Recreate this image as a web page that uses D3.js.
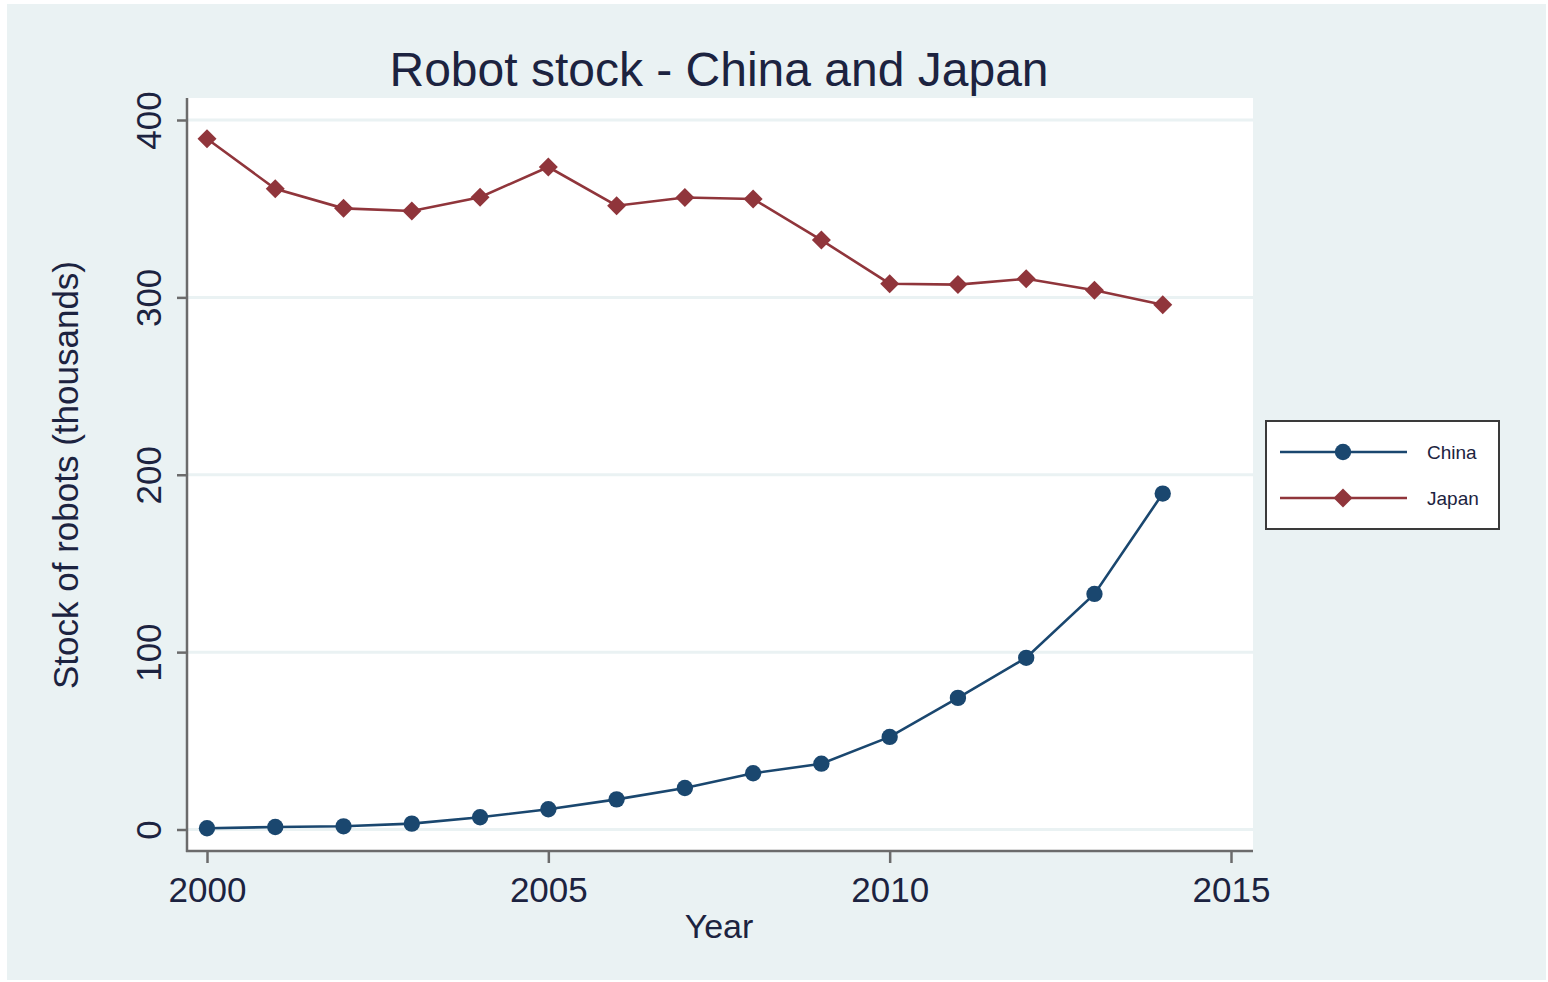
<!DOCTYPE html>
<html>
<head>
<meta charset="utf-8">
<script src="https://cdn.jsdelivr.net/npm/d3@7"></script>
<style>
  html, body { margin: 0; padding: 0; background: #ffffff; }
  svg { display: block; }
  text { font-family: "Liberation Sans", Arial, Helvetica, sans-serif; }
</style>
</head>
<body>
<svg id="chart" width="1548" height="982"></svg>
<script>
// Industrial robot operational stock, thousands of units
const years = [2000, 2001, 2002, 2003, 2004, 2005, 2006, 2007, 2008, 2009, 2010, 2011, 2012, 2013, 2014];
const china = [0.7, 1.4, 1.8, 3.3, 6.9, 11.4, 17.0, 23.4, 31.7, 37.1, 52.2, 74.2, 96.8, 132.8, 189.4];
const japan = [389.4, 361.2, 350.2, 348.7, 356.5, 373.5, 351.7, 356.3, 355.5, 332.3, 307.7, 307.2, 310.5, 304.0, 295.8];
const xTicks = [2000, 2005, 2010, 2015];
const yTicks = [0, 100, 200, 300, 400];
const seriesNames = ["China", "Japan"];

const W = 1548, H = 982;
const plot = { left: 187, right: 1253, top: 98, bottom: 851 };
const colors = { China: "#1a476f", Japan: "#90353b" };
const bg = "#eaf2f3";
const textColor = "#1c2340";

const svg = d3.select("#chart");

// outer background panel
svg.append("rect").attr("x", 7).attr("y", 4).attr("width", W - 9).attr("height", H - 6).attr("fill", bg);
// plot region
svg.append("rect")
  .attr("x", plot.left).attr("y", plot.top)
  .attr("width", plot.right - plot.left).attr("height", plot.bottom - plot.top)
  .attr("fill", "#ffffff");

const x = d3.scaleLinear().domain([2000, 2015]).range([207, 1231]);
const y = d3.scaleLinear().domain([0, 400]).range([829.5, 120]);

// horizontal grid lines
svg.append("g").selectAll("line").data(yTicks).join("line")
  .attr("x1", plot.left).attr("x2", plot.right)
  .attr("y1", d => y(d)).attr("y2", d => y(d))
  .attr("stroke", bg).attr("stroke-width", 3);

// y axis
const yAxis = svg.append("g")
  .attr("transform", `translate(${plot.left},0)`)
  .call(d3.axisLeft(y).tickValues(yTicks).tickSize(10).tickPadding(16).tickSizeOuter(0));
yAxis.select(".domain").remove();
yAxis.selectAll(".tick line").attr("stroke", "#6b6b6b").attr("stroke-width", 2.5);
yAxis.selectAll(".tick text")
  .attr("font-size", 35).attr("fill", textColor)
  .attr("transform", "rotate(-90)")
  .attr("x", 0).attr("y", -26)
  .attr("dy", 0)
  .attr("text-anchor", "middle");

// x axis
const xAxis = svg.append("g")
  .attr("transform", `translate(0,${plot.bottom})`)
  .call(d3.axisBottom(x).tickValues(xTicks).tickFormat(d3.format("d")).tickSize(12).tickPadding(14).tickSizeOuter(0));
xAxis.select(".domain").remove();
xAxis.selectAll(".tick line").attr("stroke", "#6b6b6b").attr("stroke-width", 2.5);
xAxis.selectAll(".tick text").attr("font-size", 35).attr("fill", textColor);

// axis lines
svg.append("line").attr("x1", plot.left).attr("x2", plot.left).attr("y1", plot.top).attr("y2", plot.bottom + 1)
  .attr("stroke", "#6b6b6b").attr("stroke-width", 2.5);
svg.append("line").attr("x1", plot.left - 1).attr("x2", plot.right).attr("y1", plot.bottom).attr("y2", plot.bottom)
  .attr("stroke", "#6b6b6b").attr("stroke-width", 2.5);

// series
const series = [
  { name: "China", values: china, shape: d3.symbolCircle, size: 210 },
  { name: "Japan", values: japan, shape: d3.symbolDiamond2, size: 230 }
];
const line = d3.line().x(d => x(d[0])).y(d => y(d[1]));

series.forEach(s => {
  const pts = years.map((yr, i) => [yr, s.values[i]]);
  svg.append("path").datum(pts)
    .attr("d", line)
    .attr("fill", "none")
    .attr("stroke", colors[s.name])
    .attr("stroke-width", 2.6);
  svg.append("g").selectAll("path").data(pts).join("path")
    .attr("transform", d => `translate(${x(d[0])},${y(d[1])})`)
    .attr("d", d3.symbol().type(s.shape).size(s.size))
    .attr("fill", colors[s.name]);
});

// title and axis titles
svg.append("text").attr("x", 719).attr("y", 86).attr("text-anchor", "middle")
  .attr("font-size", 48).attr("fill", textColor).text("Robot stock - China and Japan");
svg.append("text").attr("x", 719).attr("y", 938).attr("text-anchor", "middle")
  .attr("font-size", 34).attr("fill", textColor).text("Year");
svg.append("text").attr("transform", "translate(78,475) rotate(-90)").attr("text-anchor", "middle")
  .attr("font-size", 35).attr("fill", textColor).text("Stock of robots (thousands)");

// legend
const lg = svg.append("g");
lg.append("rect").attr("x", 1266).attr("y", 421).attr("width", 233).attr("height", 108)
  .attr("fill", "#ffffff").attr("stroke", "#3a3a3a").attr("stroke-width", 2);
series.forEach((s, i) => {
  const ly = 452 + i * 46;
  lg.append("line").attr("x1", 1280).attr("x2", 1407).attr("y1", ly).attr("y2", ly)
    .attr("stroke", colors[s.name]).attr("stroke-width", 2.6);
  lg.append("path").attr("transform", `translate(1343,${ly})`)
    .attr("d", d3.symbol().type(s.shape).size(s.size)).attr("fill", colors[s.name]);
  lg.append("text").attr("x", 1427).attr("y", ly + 7).attr("font-size", 19)
    .attr("fill", textColor).text(seriesNames[i]);
});
</script>
</body>
</html>
